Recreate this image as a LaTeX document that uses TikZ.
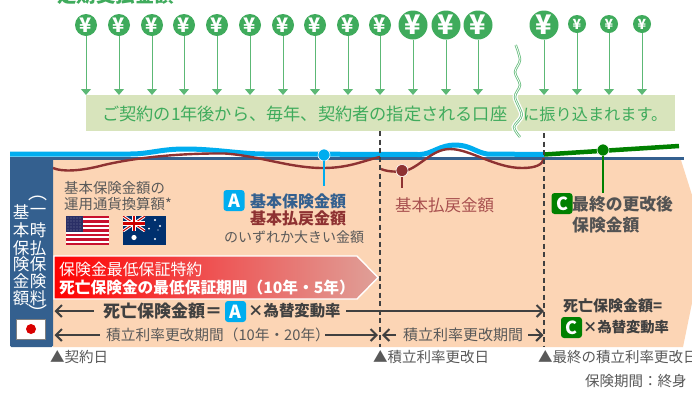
\documentclass[tikz,border=0pt]{standalone}
\usepackage{fontspec}
\setmainfont{Noto Sans CJK JP}
\usetikzlibrary{arrows.meta}
\newcommand\fs[1]{\fontsize{#1}{#1}\selectfont}
\definecolor{yengreen}{HTML}{3FAB5C}
\definecolor{barfill}{HTML}{D8E4BC}
\definecolor{peach}{HTML}{FCD5B5}
\definecolor{navy}{HTML}{34608F}
\definecolor{cyanline}{HTML}{00ADEF}
\definecolor{redline}{HTML}{8E3232}
\definecolor{dkgreen}{HTML}{008000}
\definecolor{txtgray}{HTML}{595959}
\definecolor{dkgray}{HTML}{404040}
\definecolor{softred}{HTML}{A8504F}
\definecolor{usred}{HTML}{C8102E}
\definecolor{usblue}{HTML}{2A2F66}
\definecolor{aublue}{HTML}{00306E}
\definecolor{gradmid}{HTML}{EE5555}
\definecolor{gradend}{HTML}{DFA098}
\tikzset{
  lbl/.style={inner sep=0,anchor=west,text=txtgray},
  yenbig/.style={circle,fill=yengreen,text=white,inner sep=0,minimum size=29pt,font=\fs{27}\bfseries},
  yenmid/.style={circle,fill=yengreen,text=white,inner sep=0,minimum size=22pt,font=\fs{20}\bfseries},
  yensmall/.style={circle,fill=yengreen,text=white,inner sep=0,minimum size=18pt,font=\fs{14}\bfseries},
  payarrow/.style={yengreen!85!white,line width=1pt,-{Triangle[width=10pt,length=6pt]}},
  bignum/.style={rounded corners=3pt,inner sep=0,minimum width=21pt,minimum height=21pt,text=white,font=\fs{18}\bfseries},
  openarrow/.style={dkgray,line width=2pt,-{Straight Barb[length=6pt,width=12pt,line width=2pt]}},
  divider/.style={dkgray,line width=1.3pt,dash pattern=on 5pt off 3.5pt},
  pin/.style={circle,inner sep=0,minimum size=12pt,draw=white,line width=.6pt},
  vchar/.style={inner sep=0,text=white,font=\fs{16.5}},
}
\begin{document}
\begin{tikzpicture}[x=1pt,y=-1pt]
\clip (0,0) rectangle (692,392);
\fill[white] (0,0) rectangle (692,392);

% title clipped at top
\node[lbl,text=yengreen,font=\fs{19.5}\bfseries] (title) at (57,-5) {定期支払金額};

% green bar with cut
\fill[barfill] (86,95) rectangle (675,131);
\node[lbl,text=yengreen,font=\fs{17.2}] (barA) at (102,114) {ご契約の1年後から、毎年、契約者の指定される口座};
\node[lbl,text=yengreen,font=\fs{16.2}] (barB) at (523,114) {に振り込まれます。};

% yen coins
\foreach \i/\x in {1/86,2/119,3/152,4/184,5/217,6/250,7/283,8/315,9/348,10/380}{
  \node[yenmid] (y\i) at (\x,25) {¥};
  \coordinate (t\i) at (\x,95);
  \draw[payarrow] (y\i) -- (t\i);
}
\foreach \i/\x in {11/413,12/446,13/478,14/544}{
  \node[yenbig] (y\i) at (\x,25) {¥};
  \coordinate (t\i) at (\x,95);
  \draw[payarrow] (y\i) -- (t\i);
}
\foreach \i/\x in {15/577,16/609,17/642}{
  \node[yensmall] (y\i) at (\x,24) {¥};
  \coordinate (t\i) at (\x,95);
  \draw[payarrow] (y\i) -- (t\i);
}

% wavy break
\draw[white,line width=5pt] plot[smooth] coordinates {(515.7,45) (520,60) (515,72) (520,85) (515,97) (521.7,115) (514,127) (520,137)};
\draw[yengreen!80!white,line width=2.4pt] plot[smooth] coordinates {(515.7,45) (520,60) (515,72) (520,85) (515,97) (521.7,115) (514,127) (520,137)};
\draw[white,line width=.8pt] plot[smooth] coordinates {(515.7,45) (520,60) (515,72) (520,85) (515,97) (521.7,115) (514,127) (520,137)};

% main peach body
\fill[peach] (53,157) -- (680,157) -- (692,195) -- (692,303) -- (683,347) -- (53,347) -- cycle;
\fill[navy,rounded corners=1.5pt] (10,157) rectangle (53,347);
\fill[navy] (10,157) rectangle (684,159.5);

% value curves
\draw[cyanline,line width=5pt] (10,154) -- (130,154) .. controls (150,154) and (160,149) .. (185,149) .. controls (215,149) and (240,154) .. (265,154) -- (420,154.5) .. controls (432,154) and (440,145) .. (455,145) .. controls (470,145) and (475,152) .. (487,154) -- (544,154.5);
\draw[redline,line width=2.4pt] (53,168) .. controls (62,172) and (80,171) .. (100,166) .. controls (135,157) and (185,153) .. (225,153.5) .. controls (260,156) and (290,168) .. (323,168) .. controls (350,168) and (365,160) .. (380,157);
\draw[redline,line width=2.4pt] (381,169) .. controls (388,172) and (398,172) .. (405,171) .. controls (420,167) and (432,149) .. (450,149) .. controls (470,149) and (495,168) .. (522,168) .. controls (535,168) and (543,165) .. (544,158);
\draw[dkgreen,line width=4.5pt] (544,154.5) -- (679,146);

% pins
\node[pin,fill=cyanline] (pinA) at (324,155) {};
\coordinate (pinAend) at (324,186);
\draw[cyanline,line width=2.6pt] (pinA) -- (pinAend);
\node[pin,fill=redline] (pinB) at (402,170.5) {};
\coordinate (pinBend) at (402,188);
\draw[redline,line width=2.6pt] (pinB) -- (pinBend);
\node[pin,fill=dkgreen] (pinC) at (603,150) {};
\coordinate (pinCend) at (603,193);
\draw[dkgreen,line width=2.6pt] (pinC) -- (pinCend);

% left column vertical text
\node[vchar,font=\fs{19}] (va) at (38,198) {︵};
\foreach \n/\l/\r/\yy in {1/基/一/212,2/本/時/230,3/保/払/248,4/険/保/264,5/金/険/281,6/額/料/298}{
  \node[vchar] (vl\n) at (21,\yy) {\l};
  \node[vchar] (vr\n) at (38,\yy) {\r};
}
\node[vchar,font=\fs{19}] (vz) at (38,313) {︶};

% Japan flag
\node[draw=gray,line width=.7pt,fill=white,minimum width=29pt,minimum height=20pt,inner sep=0] (jp) at (31,329) {};
\fill[red!85!black] (jp.center) circle (5);

% currency label and flags
\node[lbl,font=\fs{14.4},anchor=west] (cur1) at (64,188) {基本保険金額の};
\node[lbl,font=\fs{14.4},anchor=west] (cur2) at (64,204) {運用通貨換算額*};

% US flag
\fill[white] (66,216) rectangle (109,245);
\foreach \k in {0,2,4,6,8,10,12}{
  \fill[usred] (66,216+\k*2.23) rectangle (109,216+\k*2.23+2.23);
}
\fill[usblue] (66,216) rectangle (83,231.6);
\foreach \a in {68,71,74,77,80}{\foreach \b in {218,221,224,227,230}{\fill[white] (\a,\b) circle (.45);}}
% Australia flag
\fill[aublue] (123,216) rectangle (166,245);
\begin{scope}
\clip (123,216) rectangle (145,231);
\draw[white,line width=3pt] (123,216) -- (145,231) (145,216) -- (123,231);
\draw[red!80!black,line width=1pt] (123,216) -- (145,231) (145,216) -- (123,231);
\draw[white,line width=4.5pt] (134,216) -- (134,231) (123,223.5) -- (145,223.5);
\draw[red!80!black,line width=2.4pt] (134,216) -- (134,231) (123,223.5) -- (145,223.5);
\end{scope}
\foreach \a/\b/\r in {134/237.5/2.6,155/220/1.1,160/226/1.1,149/228.5/1,155/239/1.2,158/230/.6}{\fill[white] (\a,\b) circle (\r);}

% label A
\node[bignum,fill=cyanline] (badgeA) at (234,200.5) {A};
\node[lbl,text=navy,font=\fs{16}\bfseries] (a1) at (250,201) {基本保険金額};
\node[lbl,text=redline,font=\fs{16}\bfseries] (a2) at (250,218.5) {基本払戻金額};
\node[lbl,font=\fs{14}] (a3) at (224,237) {のいずれか大きい金額};

% label B
\node[lbl,text=softred,font=\fs{16.5}] (b1) at (395,205) {基本払戻金額};

% label C
\node[bignum,fill=dkgreen] (badgeC) at (562,203.5) {C};
\node[lbl,text=dkgray!90!white,font=\fs{16.8}\bfseries] (c1) at (572,204) {最終の更改後};
\node[lbl,text=dkgray!90!white,font=\fs{16.8}\bfseries] (c2) at (572,225) {保険金額};

% red arrow
\draw[white,line width=1.4pt,left color=red,right color=gradend,middle color=gradmid] (54,256) -- (357,256) -- (378,277.5) -- (357,299) -- (54,299) -- cycle;
\node[lbl,text=white,font=\fs{15.9}] (g1) at (59,269.5) {保険金最低保証特約};
\node[lbl,text=white,font=\fs{15.7}\bfseries] (g2) at (59,288) {死亡保険金の最低保証期間（10年・5年）};

% dividers
\coordinate (d1t) at (380,131);
\coordinate (d1b) at (380,347);
\coordinate (d2t) at (544,133);
\coordinate (d2b) at (544,347);
\draw[divider] (d1t) -- (d1b);
\draw[divider] (d2t) -- (d2b);

% death benefit row
\node[lbl,text=dkgray,font=\fs{17}\bfseries] (r1a) at (103,311) {死亡保険金額＝};
\node[bignum,fill=cyanline] (badgeA2) at (235.5,311.5) {A};
\node[lbl,text=dkgray,font=\fs{15.4}\bfseries] (r1b) at (248,311) {×為替変動率};
\coordinate (r1l) at (54.5,311);
\coordinate (r1m) at (94,311);
\coordinate (r1n) at (346,311);
\coordinate (r1r) at (544,311);
\draw[openarrow] (r1m) -- (r1l);
\draw[openarrow] (r1n) -- (r1r);

% crediting period row
\node[lbl,font=\fs{14.7}] (r2a) at (106,335) {積立利率更改期間（10年・20年）};
\coordinate (r2l) at (54.5,335);
\coordinate (r2m) at (100,335);
\coordinate (r2n) at (325,335);
\coordinate (r2r) at (378,335);
\draw[openarrow] (r2m) -- (r2l);
\draw[openarrow] (r2n) -- (r2r);
\node[lbl,font=\fs{15}] (r2b) at (403,335) {積立利率更改期間};
\coordinate (r3l) at (382,335);
\coordinate (r3m) at (396,335);
\coordinate (r3n) at (528,335);
\coordinate (r3r) at (543.5,335);
\draw[openarrow] (r3m) -- (r3l);
\draw[openarrow] (r3n) -- (r3r);

% right formula
\node[lbl,text=dkgray,font=\fs{15}\bfseries] (f1) at (563,306) {死亡保険金額=};
\node[bignum,fill=dkgreen] (badgeC2) at (571.5,327.5) {C};
\node[lbl,text=dkgray,font=\fs{14.3}\bfseries] (f2) at (583,327) {×為替変動率};

% dates
\node[lbl,font=\fs{14.5}] (m1) at (50,357) {▲契約日};
\node[lbl,font=\fs{14.5}] (m2) at (373,357) {▲積立利率更改日};
\node[lbl,font=\fs{14.5}] (m3) at (538,357) {▲最終の積立利率更改日};
\node[lbl,font=\fs{14.5}] (term) at (585,381) {保険期間：終身};
\end{tikzpicture}
\end{document}
